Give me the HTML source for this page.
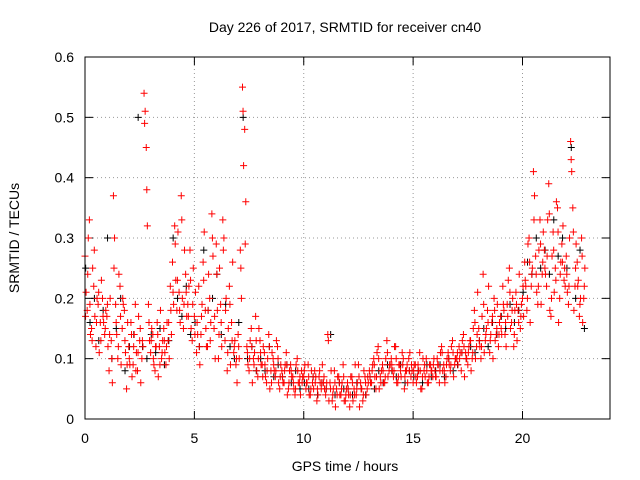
<!DOCTYPE html>
<html><head><meta charset="utf-8"><style>
body{margin:0;background:#fff}
svg{display:block;font-family:"Liberation Sans",sans-serif}
</style></head><body>
<svg id="chart" width="640" height="480">
<text x="345" y="32" font-size="14" text-anchor="middle">Day 226 of 2017, SRMTID for receiver cn40</text>
<text x="345" y="471" font-size="14" text-anchor="middle">GPS time / hours</text>
<text transform="translate(19,238) rotate(-90)" font-size="14" text-anchor="middle">SRMTID / TECUs</text>
<g id="grid"></g>
<g id="marks"></g>
<rect x="85" y="57" width="525" height="362" fill="none" stroke="#000"/>
</svg>
<script>
const xTicks=[0,5,10,15,20];
const yTicks=[0,0.1,0.2,0.3,0.4,0.5,0.6];
const yTickLabels=["0","0.1","0.2","0.3","0.4","0.5","0.6"];
const seriesA=[.27,.18,.33,.15,.22,.12,.19,.16,.20,.14,.17,.08,.13,.37,.19,.10,.22,.15,.18,.05,.12,.16,.09,.19,.08,.13,.10,.54,.45,.19,.11,.14,.08,.16,.12,.10,.15,.09,.13,.22,.26,.32,.18,.21,.37,.15,.24,.19,.28,.13,.17,.11,.22,.14,.26,.18,.12,.20,.34,.15,.29,.10,.19,.33,.13,.08,.22,.16,.11,.09,.14,.28,.55,.48,.12,.08,.15,.10,.17,.07,.13,.09,.11,.06,.14,.08,.10,.07,.12,.05,.08,.06,.11,.05,.09,.07,.04,.10,.06,.08,.07,.05,.09,.04,.06,.08,.03,.07,.05,.06,.04,.14,.06,.03,.08,.05,.07,.04,.09,.03,.06,.02,.07,.05,.04,.09,.06,.03,.07,.05,.08,.06,.10,.05,.12,.07,.09,.06,.13,.08,.10,.07,.12,.06,.09,.11,.05,.08,.10,.07,.06,.09,.07,.11,.05,.08,.10,.06,.09,.07,.08,.10,.06,.12,.09,.07,.11,.08,.13,.09,.10,.12,.08,.14,.11,.09,.13,.10,.18,.12,.15,.10,.24,.13,.18,.11,.16,.20,.14,.12,.17,.22,.14,.19,.25,.16,.12,.21,.18,.15,.20,.26,.18,.30,.22,.41,.27,.19,.33,.24,.28,.22,.39,.17,.31,.25,.35,.20,.29,.23,.27,.19,.46,.35,.22,.26,.17,.30,.20];
const seriesB=[.21,.30,.14,.25,.17,.20,.11,.23,.16,.18,.12,.20,.06,.30,.14,.24,.09,.19,.11,.16,.09,.07,.14,.11,.17,.06,.12,.51,.32,.13,.15,.09,.12,.07,.18,.13,.11,.16,.10,.14,.19,.23,.31,.16,.20,.28,.17,.22,.15,.25,.21,.14,.09,.19,.31,.12,.24,.16,.27,.10,.18,.25,.12,.30,.20,.15,.09,.26,.13,.06,.10,.20,.42,.36,.09,.13,.06,.11,.08,.15,.09,.12,.07,.10,.05,.11,.08,.13,.06,.09,.06,.09,.04,.08,.07,.05,.09,.06,.04,.07,.09,.06,.04,.08,.05,.07,.04,.06,.09,.05,.06,.03,.08,.05,.02,.07,.04,.06,.03,.05,.04,.07,.03,.09,.06,.02,.05,.08,.04,.06,.06,.09,.07,.11,.05,.08,.06,.10,.07,.09,.08,.12,.06,.09,.07,.10,.08,.06,.11,.08,.09,.06,.08,.05,.10,.07,.06,.09,.08,.10,.07,.09,.11,.08,.06,.10,.09,.12,.07,.10,.09,.11,.13,.07,.10,.12,.08,.15,.10,.21,.12,.17,.11,.15,.22,.14,.10,.13,.19,.16,.14,.18,.12,.23,.15,.20,.18,.13,.24,.19,.17,.22,.29,.16,.25,.37,.21,.28,.19,.31,.24,.33,.18,.27,.21,.36,.16,.26,.32,.22,.21,.30,.41,.18,.29,.23,.20,.16,.25];
const seriesC=[.17,.24,.19,.13,.28,.16,.21,.13,.17,.15,.19,.14,.10,.25,.16,.12,.17,.20,.13,.09,.10,.14,.12,.08,.11,.15,.13,.49,.38,.16,.13,.10,.12,.14,.09,.11,.13,.12,.16,.18,.21,.29,.23,.18,.33,.19,.21,.17,.23,.19,.14,.16,.12,.17,.23,.15,.18,.13,.30,.17,.24,.14,.16,.28,.18,.11,.19,.13,.12,.10,.12,.25,.51,.29,.11,.10,.12,.09,.13,.10,.11,.07,.09,.08,.12,.06,.09,.08,.10,.07,.07,.08,.09,.06,.08,.06,.05,.08,.07,.06,.08,.06,.07,.05,.07,.06,.05,.08,.06,.07,.05,.13,.05,.04,.06,.04,.06,.05,.07,.04,.05,.04,.06,.04,.05,.07,.05,.04,.06,.07,.07,.08,.09,.07,.10,.06,.08,.07,.11,.09,.09,.08,.10,.07,.08,.09,.07,.09,.08,.09,.08,.07,.09,.08,.07,.09,.08,.07,.08,.09,.07,.09,.08,.11,.08,.09,.10,.09,.11,.10,.11,.10,.11,.12,.10,.11,.13,.11,.16,.14,.13,.12,.19,.14,.16,.13,.17,.18,.15,.14,.15,.19,.16,.17,.21,.18,.14,.19,.16,.17,.22,.23,.20,.26,.24,.33,.24,.22,.29,.26,.25,.27,.34,.20,.28,.23,.31,.24,.26,.25,.24,.22,.43,.31,.25,.22,.19,.27,.22];
const seriesBlack=[.25,.16,.20,.13,.18,.30,.10,.15,.20,.08,.12,.14,.50,.12,.10,.14,.11,.15,.09,.13,.30,.20,.17,.22,.14,.16,.12,.28,.18,.20,.24,.14,.19,.12,.10,.16,.50,.10,.12,.08,.10,.08,.12,.07,.09,.07,.09,.06,.08,.05,.06,.05,.07,.04,.06,.05,.14,.04,.06,.05,.05,.04,.06,.05,.04,.07,.05,.08,.06,.09,.08,.07,.09,.06,.08,.07,.08,.06,.09,.07,.08,.09,.07,.10,.08,.09,.11,.10,.12,.11,.13,.15,.12,.16,.14,.17,.15,.19,.16,.18,.21,.26,.24,.30,.25,.28,.24,.33,.27,.30,.25,.45,.20,.28,.15];
const stepA=0.1, stepBlack=0.2;
const X0=85,X1=610,Y0=419,Y1=57;
const xs=h=>X0+h*(X1-X0)/24;
const ys=v=>Y0-v*(Y0-Y1)/0.6;
const NS="http://www.w3.org/2000/svg";
const grid=document.getElementById('grid'),marks=document.getElementById('marks'),svg=document.getElementById('chart');
function mk(t,a,p){const e=document.createElementNS(NS,t);for(const k in a)e.setAttribute(k,a[k]);p.appendChild(e);return e;}
yTicks.forEach((v,i)=>{const y=ys(v);
 if(i>0&&i<yTicks.length-1){const l=mk('line',{x1:X0,x2:X1,y1:y,y2:y,stroke:'#999','stroke-dasharray':'1,3'},grid);}
 const t=mk('line',{x1:X0,x2:X0+8,y1:y,y2:y,stroke:'#000'},grid);
 const t2=mk('line',{x1:X1-8,x2:X1,y1:y,y2:y,stroke:'#000'},grid);
 const tx=mk('text',{x:X0-11,y:y+5,'font-size':14,'text-anchor':'end'},svg);tx.textContent=yTickLabels[i];
 });
xTicks.forEach(v=>{const x=xs(v);
 if(v>0){const l=mk('line',{x1:x,x2:x,y1:Y1,y2:Y0,stroke:'#999','stroke-dasharray':'1,3'},grid);}
 const t=mk('line',{x1:x,x2:x,y1:Y0,y2:Y0-8,stroke:'#000'},grid);
 const t2=mk('line',{x1:x,x2:x,y1:Y1,y2:Y1+8,stroke:'#000'},grid);
 const tx=mk('text',{x:x,y:Y0+24,'font-size':14,'text-anchor':'middle'},svg);tx.textContent=String(v);
 });
function plot(vals,step,off,color,name){let d='';vals.forEach((v,i)=>{const x=xs(i*step+off),y=ys(v);d+=`M${x-3.5},${y}h7M${x},${y-3.5}v7`;});
 const p=mk('path',{d:d,stroke:color,'stroke-width':1,fill:'none'},marks);}
plot(seriesBlack,stepBlack,0.03,'#000','series-black-points');
plot(seriesA,stepA,0,'#f00','series-a-points');
plot(seriesB,stepA,0.05,'#f00','series-b-points');
plot(seriesC,stepA,0.025,'#f00','series-c-points');
</script>
</body></html>
